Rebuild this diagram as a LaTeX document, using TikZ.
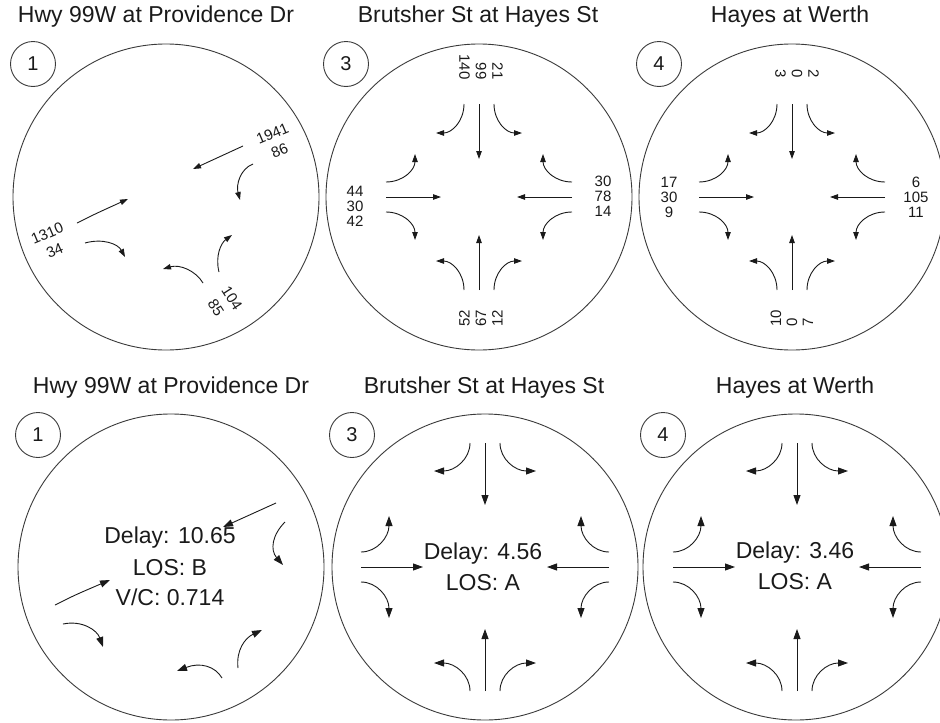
\documentclass[tikz,border=0pt]{standalone}
\usepackage{fontspec}
\setmainfont{Liberation Sans}
\usetikzlibrary{arrows.meta}
\definecolor{ink}{HTML}{1A1A1A}
\definecolor{rim}{HTML}{3A3A3A}
\tikzset{
  every picture/.style={line width=0.9pt},
  ring/.style={draw=rim, line width=0.9pt},
  tag/.style={circle, draw=rim, line width=0.9pt, minimum size=45pt, inner sep=0pt, text=ink, font=\fontsize{20}{20}\selectfont},
  heading/.style={font=\fontsize{23}{23}\selectfont, text=ink, inner sep=0pt},
  vol/.style={font=\fontsize{15}{15}\selectfont, text=ink, inner sep=0pt, align=center},
  stat/.style={font=\fontsize{23}{23}\selectfont, text=ink, inner sep=0pt},
  flow/.style={draw=ink, -{Triangle[length=8pt, width=5.5pt]}},
  bigflow/.style={draw=ink, -{Triangle[length=10pt, width=7pt]}},
}

\begin{document}
\begin{tikzpicture}[x=1pt, y=-1pt]
  \useasboundingbox (0,0) rectangle (940,723);
  % ---- top row: turning volumes ----
  \foreach \n/\cx/\tx/\name in {1/166/156/Hwy 99W at Providence Dr, 3/479/478/Brutsher St at Hayes St, 4/792/790/Hayes at Werth} {
    \node[heading] (t\n) at (\tx,17) {\name};
    \node[tag] (k\n) at (\cx-133,64) {\n};
    \draw[ring] (\cx,197) circle[radius=153pt];
  }
  % skewed approaches at Providence Dr
  \draw[flow] (243,146) -- (193,169);
  \draw[flow] (253,164) .. controls (240,169) and (236,185) .. (240,200);
  \draw[flow] (77,223) .. controls (95,214) .. (128,199);
  \draw[flow] (85,243) .. controls (103,238) and (118,244) .. (125,257);
  \draw[flow] (203,283) .. controls (196,271) and (180,264) .. (163,269);
  \draw[flow] (219,272) .. controls (215,256) and (221,243) .. (232,235);
  \node[vol, rotate=23, font=\fontsize{15}{18}\selectfont] (v1a) at (276,142) {1941\\86};
  \node[vol, rotate=23, font=\fontsize{15}{19}\selectfont] (v1c) at (51,242) {1310\\34};
  \node[vol, rotate=-57, font=\fontsize{15}{19}\selectfont] (v1e) at (224,303) {104\\85};
  % four-leg intersections, one approach per quarter turn
  \foreach \cx in {479,792} {
    \foreach \r in {0,90,180,270} {
      \begin{scope}[shift={(\cx,197)}, rotate=\r]
        \draw[flow] (0,-93) -- (0,-38);
        \draw[flow] (-15,-93) .. controls (-15,-76) and (-27,-64) .. (-43,-64);
        \draw[flow] (15,-93) .. controls (15,-76) and (27,-64) .. (43,-64);
      \end{scope}
    }
  }
  \node[vol] (c3w) at (355,206) {44\\30\\42};
  \node[vol] (c3e) at (603,196) {30\\78\\14};
  \node[vol, rotate=-90, align=right, anchor=east, font=\fontsize{15}{16.5}\selectfont] (c3n) at (481,80) {21\\99\\140};
  \node[vol, rotate=90, align=left, anchor=west, font=\fontsize{15}{16.5}\selectfont] (c3s) at (481,327) {52\\67\\12};
  \node[vol] (c4w) at (669,197) {17\\30\\9};
  \node[vol] (c4e) at (916,197) {6\\105\\11};
  \node[vol, rotate=-90, align=right, anchor=east, font=\fontsize{15}{16.5}\selectfont] (c4n) at (797,78) {2\\0\\3};
  \node[vol, rotate=90, align=left, anchor=west, font=\fontsize{15}{16}\selectfont] (c4s) at (792,327) {10\\0\\7};

  % ---- bottom row: delay and level of service ----
  \foreach \n/\cx/\tx/\name in {1/171/171/Hwy 99W at Providence Dr, 3/485/484/Brutsher St at Hayes St, 4/796/795/Hayes at Werth} {
    \node[heading] (bt\n) at (\tx,388) {\name};
    \node[tag] (bk\n) at (\cx-133,435) {\n};
    \draw[ring] (\cx,567) circle[radius=153pt];
  }
  \draw[bigflow] (276,503) -- (223,527);
  \draw[bigflow] (285,522) .. controls (272,535) and (270,550) .. (283,565);
  \draw[bigflow] (55,605) .. controls (75,595) .. (110,580);
  \draw[bigflow] (63,624) .. controls (82,620) and (97,630) .. (103,647);
  \draw[bigflow] (222,678) .. controls (215,666) and (200,662) .. (177,671);
  \draw[bigflow] (238,668) .. controls (236,650) and (245,638) .. (262,630);
  \foreach \cx in {485,797} {
    \foreach \r in {0,90,180,270} {
      \begin{scope}[shift={(\cx,567)}, rotate=\r]
        \draw[bigflow] (0,-124) -- (0,-62);
        \draw[bigflow] (-15,-124) .. controls (-15,-108) and (-30,-96) .. (-51,-96);
        \draw[bigflow] (15,-124) .. controls (15,-108) and (30,-96) .. (51,-96);
      \end{scope}
    }
  }
  \node[stat] (d1) at (170,538) {Delay: 10.65};
  \node[stat] (l1) at (170,568) {LOS: B};
  \node[stat] (r1) at (170,597) {V/C: 0.714};
  \node[stat] (d3) at (483,554) {Delay: 4.56};
  \node[stat] (l3) at (483,583) {LOS: A};
  \node[stat] (d4) at (795,553) {Delay: 3.46};
  \node[stat] (l4) at (795,582) {LOS: A};
\end{tikzpicture}
\end{document}
